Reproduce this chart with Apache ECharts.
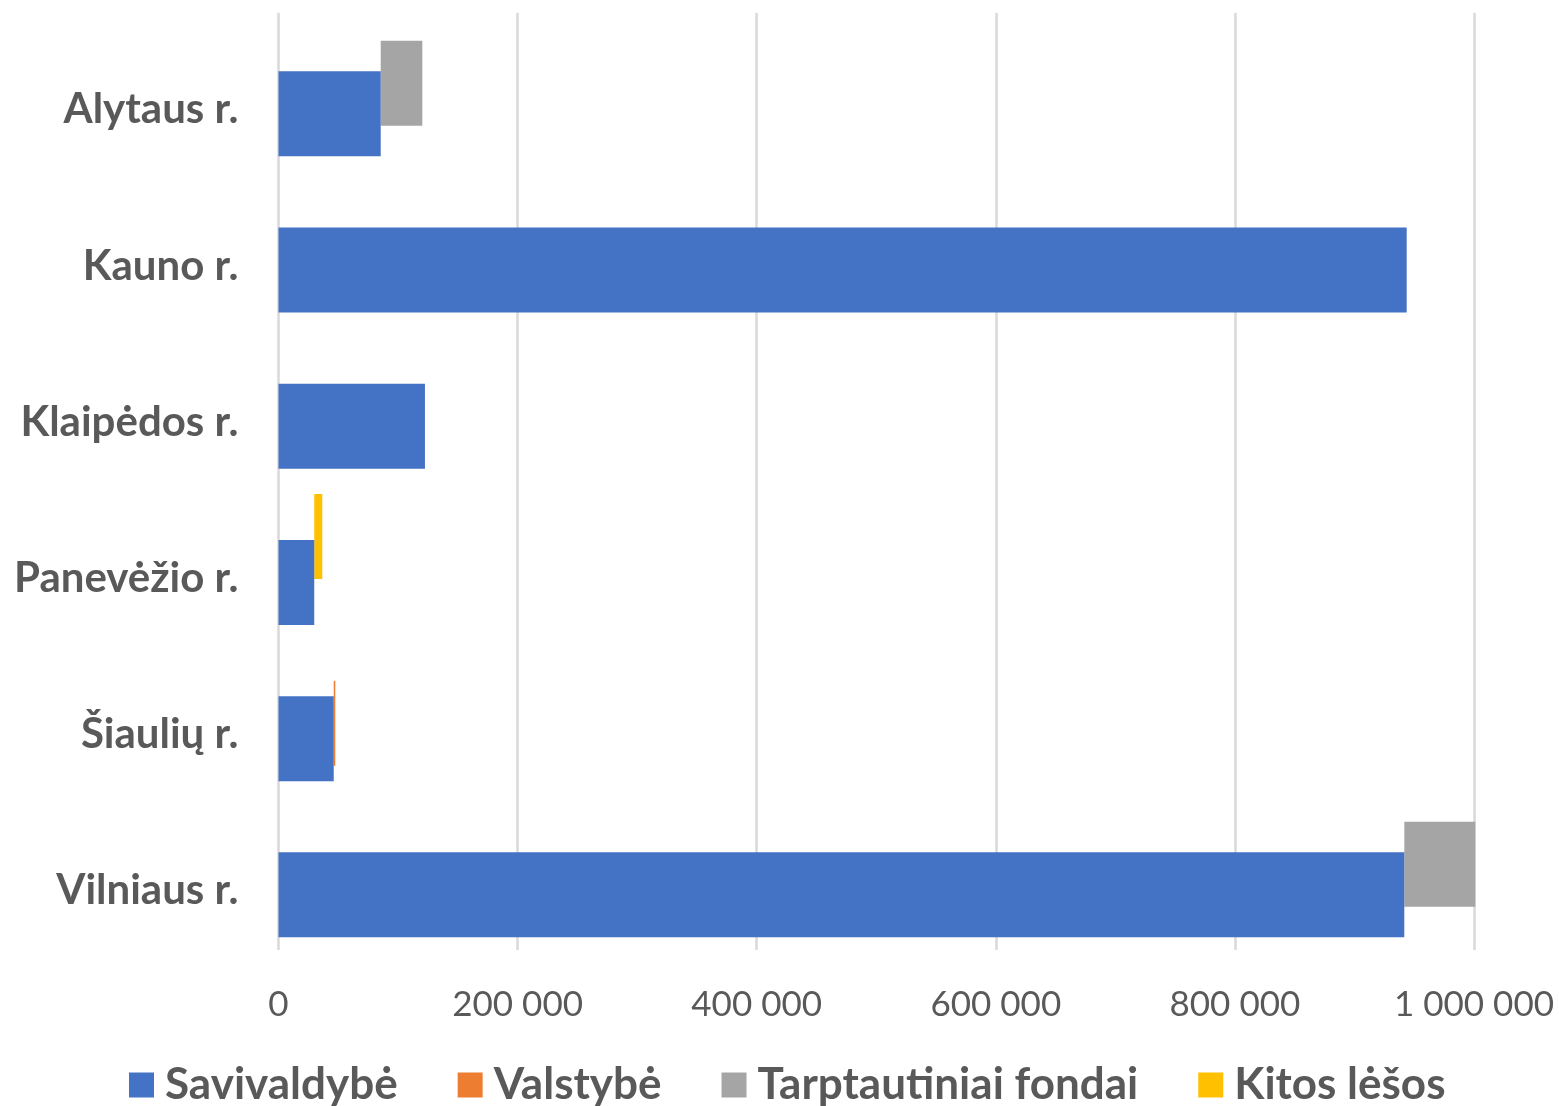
<!DOCTYPE html>
<html><head><meta charset="utf-8">
<script src="https://cdn.jsdelivr.net/npm/echarts@6/dist/echarts.min.js"></script>
<style>html,body{margin:0;padding:0;background:#fff}#c{width:1559px;height:1106px}</style>
</head><body><div id="c"></div>
<script>
const categories = ['Alytaus r.', 'Kauno r.', 'Klaipėdos r.', 'Panevėžio r.', 'Šiaulių r.', 'Vilniaus r.'];
const savivaldybe = [85500, 943700, 122500, 29900, 46200, 941700];
const valstybe = [0, 0, 0, 0, 1300, 0];
const tarptautiniai = [34800, 0, 0, 0, 0, 59400];
const kitos = [0, 0, 0, 6700, 0, 0];
const xMin = 0, xMax = 1000000, xInterval = 200000;
const seriesNames = ['Savivaldybė', 'Valstybė', 'Tarptautiniai fondai', 'Kitos lėšos'];
const colors = {blue: '#4472C4', orange: '#ED7D31', gray: '#A5A5A5', yellow: '#FFC000'};

function fmt(v) { return String(v).replace(/\B(?=(\d{3})+(?!\d))/g, ' '); }
const BW = 85, GAP = '-82%';
function base(stack) {
  return {type: 'bar', stack: stack, data: savivaldybe, barWidth: BW, barGap: GAP,
    itemStyle: {color: 'rgba(0,0,0,0)'}, silent: true, emphasis: {disabled: true}, z: 1};
}
function seg(name, stack, data, color) {
  return {type: 'bar', name: name, stack: stack, data: data, barWidth: BW, barGap: GAP,
    itemStyle: {color: color}, clip: false, z: 2};
}
const chart = echarts.init(document.getElementById('c'));
chart.setOption({
  animation: false,
  backgroundColor: '#ffffff',
  grid: {left: 278.5, right: 85, top: 12.7, bottom: 156},
  legend: {
    data: seriesNames, left: 124, top: 1058, icon: 'rect', itemWidth: 25, itemHeight: 25, itemGap: 60,
    textStyle: {fontFamily: 'Lato', fontWeight: 'bold', fontSize: 44, color: '#595959', padding: [0, 0, 0, 6]}
  },
  xAxis: {
    type: 'value', min: xMin, max: xMax, interval: xInterval,
    axisLine: {show: false}, axisTick: {show: false},
    splitLine: {show: true, lineStyle: {color: '#d9d9d9', width: 2.5}},
    axisLabel: {fontFamily: 'Lato', fontSize: 35, color: '#595959', margin: 37, formatter: fmt}
  },
  yAxis: {
    type: 'category', inverse: true, data: categories,
    axisLine: {show: false}, axisTick: {show: false},
    axisLabel: {fontFamily: 'Lato', fontWeight: 'bold', fontSize: 42, color: '#595959', margin: 40,
      verticalAlign: 'top', lineHeight: 38}
  },
  series: [
    base('k'), seg('Kitos lėšos', 'k', kitos, colors.yellow),
    base('t'), seg('Tarptautiniai fondai', 't', tarptautiniai, colors.gray),
    base('v'), seg('Valstybė', 'v', valstybe, colors.orange),
    seg('Savivaldybė', 's', savivaldybe, colors.blue)
  ]
});
</script></body></html>
